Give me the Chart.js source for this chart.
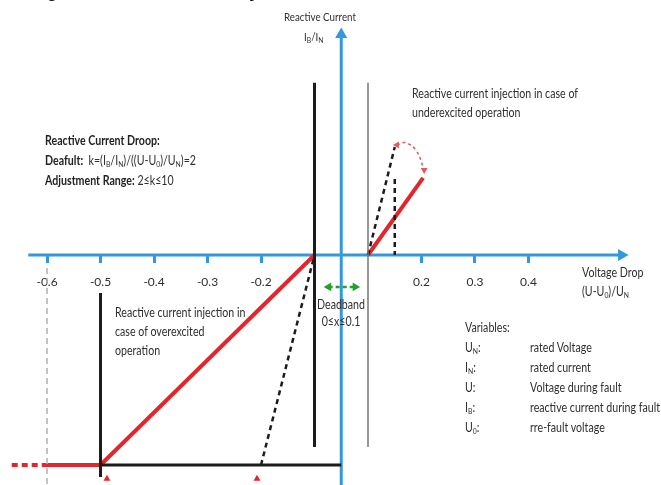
<!DOCTYPE html>
<html>
<head>
<meta charset="utf-8">
<script src="https://cdn.jsdelivr.net/npm/chart.js@4.4.1/dist/chart.umd.min.js"></script>
<style>
  html, body { margin: 0; padding: 0; background: #fff; }
  #wrap { position: relative; width: 661px; height: 485px; overflow: hidden; }
  #c { position: absolute; left: 0; top: 0; }
  .t { position: absolute; font-family: Lato, "DejaVu Sans Condensed", sans-serif;
       font-size: 12.5px; line-height: 19px; color: #2f2f2f; white-space: nowrap;
       transform: scaleX(0.85); transform-origin: 0 0; }
  .t b { color: #222; }
  .t sub { font-size: 8px; vertical-align: -2px; line-height: 0; }
  .serif { font-family: "Liberation Serif", serif; font-size: 25px; color: #111; line-height: 25px;
           transform: none; }
</style>
</head>
<body>
<div id="wrap">
  <canvas id="c" width="661" height="485"></canvas>
  <div class="t serif" style="left:19px; top:-25px;">be possible, if necessary.</div>
  <div class="t" style="left:284px; top:7px; font-size:11.5px;">Reactive Current</div>
  <div class="t" style="left:304px; top:27px; font-size:11.5px;">I<sub>B</sub>/I<sub>N</sub></div>
  <div class="t" style="left:45px; top:131px; line-height:20px;">
    <b>Reactive Current Droop:</b><br>
    <b>Deafult:</b>&nbsp; k=(I<sub>B</sub>/I<sub>N</sub>)/((U-U<sub>0</sub>)/U<sub>N</sub>)=2<br>
    <b>Adjustment Range:</b> 2≤k≤10
  </div>
  <div class="t" style="left:412px; top:84px;">Reactive current injection in case of<br>underexcited operation</div>
  <div class="t" style="left:115px; top:303px;">Reactive current injection in<br>case of overexcited<br>operation</div>
  <div class="t" style="left:311px; top:296px; line-height:17px; text-align:center; width:60px; transform-origin:50% 0;">Deadband<br>0≤x≤0.1</div>
  <div class="t" style="left:582px; top:263px;">Voltage Drop<br>(U-U<sub>0</sub>)/U<sub>N</sub></div>
  <div class="t" style="left:465px; top:318px; line-height:20px;">Variables:<br>U<sub>N</sub>:<br>I<sub>N</sub>:<br>U:<br>I<sub>B</sub>:<br>U<sub>0</sub>:</div>
  <div class="t" style="left:530px; top:338px; line-height:20px;">rated Voltage<br>rated current<br>Voltage during fault<br>reactive current during fault<br>rre-fault voltage</div>
</div>
<script>
// x is drawn on a schematic axis: the deadband is squeezed, so the
// right-hand labels sit one step left of their value
var xTickPos = [-0.6, -0.5, -0.4, -0.3, -0.2, 0.1, 0.2, 0.3];
var xTickLabels = ['-0.6', '-0.5', '-0.4', '-0.3', '-0.2', '0.2', '0.3', '0.4'];

var axisX = [[-0.635, 0], [0.474, 0]];
var axisY = [[-0.05, -1.1], [-0.05, 1.05]];

var droopOver = [[-0.6, -1], [-0.5, -1], [-0.1, 0]];
var droopOverExt = [[-0.666, -1], [-0.6, -1]];
var droopUnder = [[0, 0], [0.103, 0.367]];
var steepOver = [[-0.2, -1], [-0.1, 0]];
var steepUnder = [[0, 0], [0.05, 0.514]];
var steepUnderDrop = [[0.05, 0.362], [0.05, 0]];
var limitLine = [[-0.5, -1], [-0.05, -1]];
var limitMark = [[-0.5, -0.181], [-0.5, -1.057]];
var deadbandLow = [[-0.1, 0.82], [-0.1, -0.914]];
var deadbandHigh = [[0, 0.82], [0, -0.914]];
var refMinus06 = [[-0.6, -0.062], [-0.6, -1.1]];
var kArc = [[0.054, 0.524], [0.07, 0.535], [0.09, 0.498], [0.105, 0.405]];
var deadbandArrow = [[-0.0735, -0.152], [-0.024, -0.152]];
var kMarks = [[-0.488, -1.065], [-0.2075, -1.065]];

var BLUE = '#3399dd', RED = '#e2262b', BLACK = '#1c1c1c', GREEN = '#22a02a';

function pts(arr) {
  return arr.map(function (p) { return { x: p[0], y: p[1] }; });
}

function line(arr, color, width, dash, extra) {
  var ds = {
    data: pts(arr),
    borderColor: color,
    backgroundColor: color,
    borderWidth: width,
    borderDash: dash || [],
    pointRadius: 0,
    fill: false,
    tension: 0
  };
  for (var k in extra) ds[k] = extra[k];
  return ds;
}

var datasets = [
  line(refMinus06, '#b0b0b0', 1.5, [6, 4]),
  line(deadbandLow, BLACK, 3),
  line(deadbandHigh, '#777', 1.5),
  line(limitMark, BLACK, 3),
  line(limitLine, BLACK, 3),
  line(steepOver, BLACK, 2.5, [5, 4]),
  line(steepUnder, BLACK, 2.5, [5, 4]),
  line(steepUnderDrop, BLACK, 2.5, [5, 4]),
  line(droopOver, RED, 4),
  line(droopOverExt, RED, 4, [6, 4]),
  line(droopUnder, RED, 4),
  line(kArc, '#e05a5a', 1.5, [3, 3], {
    tension: 0.4, pointStyle: 'triangle', pointRadius: [4, 0, 0, 4],
    pointRotation: [-90, 0, 0, 180], pointBorderWidth: 0
  }),
  line(deadbandArrow, GREEN, 2.5, [4, 3], {
    pointStyle: 'triangle', pointRadius: 5, pointRotation: [-90, 90], pointBorderWidth: 0
  }),
  line(axisX, BLUE, 3, [], {
    pointStyle: 'triangle', pointRadius: [0, 7], pointRotation: [0, 90], pointBorderWidth: 0
  }),
  line(axisY, BLUE, 3, [], {
    pointStyle: 'triangle', pointRadius: [0, 7], pointRotation: [0, 0], pointBorderWidth: 0
  }),
  line(kMarks, RED, 0, [], {
    showLine: false, pointStyle: 'triangle', pointRadius: 4, pointBorderWidth: 0
  })
];

new Chart(document.getElementById('c'), {
  type: 'line',
  data: { datasets: datasets },
  options: {
    responsive: false,
    animation: false,
    layout: { padding: 0, autoPadding: false },
    plugins: { legend: { display: false }, tooltip: { enabled: false } },
    scales: {
      x: {
        type: 'linear',
        min: -0.6879,
        max: 0.5477,
        position: { y: 0 },
        border: { display: false },
        grid: { drawOnChartArea: false, drawTicks: true, tickLength: 8, color: BLUE, lineWidth: 3 },
        afterBuildTicks: function (scale) {
          scale.ticks = xTickPos.map(function (v) { return { value: v }; });
        },
        ticks: {
          autoSkip: false,
          maxRotation: 0,
          padding: 12,
          color: '#2f2f2f',
          font: { family: 'Lato, "DejaVu Sans Condensed", sans-serif', size: 12 },
          callback: function (v, i) { return xTickLabels[i]; }
        }
      },
      y: {
        type: 'linear',
        min: -1.0952,
        max: 1.2143,
        display: false
      }
    }
  }
});
</script>
</body>
</html>
